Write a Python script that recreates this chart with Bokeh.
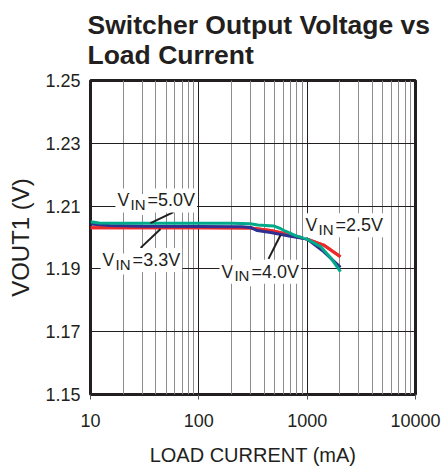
from bokeh.plotting import figure
from bokeh.models import FixedTicker, Label, NumeralTickFormatter
from bokeh.embed import file_html
from bokeh.resources import INLINE

TITLE = "Switcher Output Voltage vs\nLoad Current"
X_LABEL = "LOAD CURRENT (mA)"
Y_LABEL = "VOUT1 (V)"
Y_TICKS = [1.15, 1.17, 1.19, 1.21, 1.23, 1.25]
X_TICKS = [10, 100, 1000, 10000]
X_MINOR = [20, 30, 40, 50, 60, 70, 80, 90,
           200, 300, 400, 500, 600, 700, 800, 900,
           2000, 3000, 4000, 5000, 6000, 7000, 8000, 9000]

# VIN = 5.0 V (teal)
I_50 = [10, 12, 20, 50, 100, 200, 300, 350, 490, 570, 630, 780, 1000, 1330, 1650, 2030]
V_50 = [1.2050, 1.2046, 1.2045, 1.2045, 1.2045, 1.2045, 1.2044, 1.2040, 1.2037, 1.2028,
        1.2020, 1.2006, 1.1995, 1.1971, 1.1935, 1.1891]
# VIN = 4.0 V (navy)
I_40 = [10, 15, 30, 100, 250, 300, 346, 460, 700, 1000, 1420, 2030]
V_40 = [1.2043, 1.2038, 1.2036, 1.2035, 1.2034, 1.2032, 1.2022, 1.2016, 1.2004, 1.1995, 1.1955, 1.1905]
# VIN = 3.3 V and 2.5 V (red, lying on top of each other)
I_33 = [10, 50, 100, 300, 460, 630, 750, 1000, 1420, 2030]
V_33 = [1.2031, 1.2031, 1.2031, 1.2030, 1.2022, 1.2012, 1.2005, 1.1995, 1.1976, 1.1939]
I_25 = [10, 50, 100, 300, 460, 630, 750, 1000, 1420, 2030]
V_25 = [1.2031, 1.2031, 1.2031, 1.2030, 1.2022, 1.2012, 1.2005, 1.1995, 1.1976, 1.1939]

SERIES_LABELS = ["=5.0V", "=3.3V", "=4.0V", "=2.5V"]

FONT = "Liberation Sans"
INK = "#231f20"

p = figure(width=442, height=468, x_axis_type="log",
           x_range=(10, 10000), y_range=(1.15, 1.25),
           output_backend="svg", toolbar_location=None,
           min_border_left=90, min_border_right=27,
           min_border_top=80, min_border_bottom=73)

p.title.text = TITLE
p.title.text_font = FONT
p.title.text_font_size = "26.5px"
p.title.text_font_style = "bold"
p.title.text_color = INK
p.title.align = "left"
p.title.vertical_align = "top"
p.title.offset = -3
p.title.standoff = 18

p.outline_line_color = INK
p.outline_line_width = 3
p.background_fill_color = "white"
p.border_fill_color = "white"

# axes
p.xaxis.ticker = FixedTicker(ticks=X_TICKS, minor_ticks=X_MINOR)
p.xaxis.formatter = NumeralTickFormatter(format="0")
p.yaxis.ticker = FixedTicker(ticks=Y_TICKS)
p.yaxis.formatter = NumeralTickFormatter(format="0.00")
for ax in (p.xaxis[0], p.yaxis[0]):
    ax.axis_line_color = None
    ax.minor_tick_line_color = None
    ax.major_label_text_font = FONT
    ax.major_label_text_font_size = "18px"
    ax.major_label_text_color = INK
p.xaxis.major_tick_out = 5
p.xaxis.major_tick_in = 0
p.xaxis.major_tick_line_color = "#555555"
p.xaxis.major_label_standoff = 14
p.yaxis.major_tick_out = 0
p.yaxis.major_tick_in = 0
p.yaxis.major_label_standoff = 10
p.xaxis.axis_label = X_LABEL
p.xaxis.axis_label_text_font = FONT
p.xaxis.axis_label_text_font_size = "20px"
p.xaxis.axis_label_text_font_style = "normal"
p.xaxis.axis_label_text_color = INK
p.xaxis.axis_label_standoff = 14
p.yaxis.axis_label = Y_LABEL
p.yaxis.axis_label_text_font = FONT
p.yaxis.axis_label_text_font_size = "24px"
p.yaxis.axis_label_text_font_style = "normal"
p.yaxis.axis_label_text_color = INK
p.yaxis.axis_label_standoff = 8

# grids
p.xgrid.ticker = FixedTicker(ticks=X_TICKS, minor_ticks=X_MINOR)
p.xgrid.grid_line_color = INK
p.xgrid.grid_line_width = 1
p.xgrid.minor_grid_line_color = "#8c8c8c"
p.xgrid.minor_grid_line_width = 1
p.ygrid.ticker = FixedTicker(ticks=Y_TICKS)
p.ygrid.grid_line_color = INK
p.ygrid.grid_line_width = 1

# curves
p.line(I_33, V_33, line_width=3, color="#ED2A2A")
p.line(I_25, V_25, line_width=3, color="#ED2A2A")
p.line(I_40, V_40, line_width=3, color="#2E3192")
p.line(I_50, V_50, line_width=3, color="#00A98A")

# leader lines
LEAD_X0 = [35.8, 29.0, 440]
LEAD_Y0 = [1.2046, 1.1967, 1.1932]
LEAD_X1 = [58.4, 44.3, 568]
LEAD_Y1 = [1.2081, 1.2027, 1.2008]
p.segment(LEAD_X0, LEAD_Y0, LEAD_X1, LEAD_Y1, line_width=2, color=INK)

# V_IN labels
LABEL_X = [17.0, 12.4, 155, 925]
LABEL_Y = [1.2118, 1.1928, 1.1891, 1.2039]
for lx, ly, txt in zip(LABEL_X, LABEL_Y, SERIES_LABELS):
    common = dict(x=lx, y=ly, text_font=FONT, text_color=INK,
                  background_fill_color="white", text_baseline="alphabetic",
                  text_align="left", padding=2)
    p.add_layout(Label(text="V", text_font_size="18px", **common))
    p.add_layout(Label(text="IN", text_font_size="15px", x_offset=13, y_offset=-4, **common))
    p.add_layout(Label(text=txt, text_font_size="18px", x_offset=30, **common))

open("out.html", "w").write(file_html(p, INLINE))
